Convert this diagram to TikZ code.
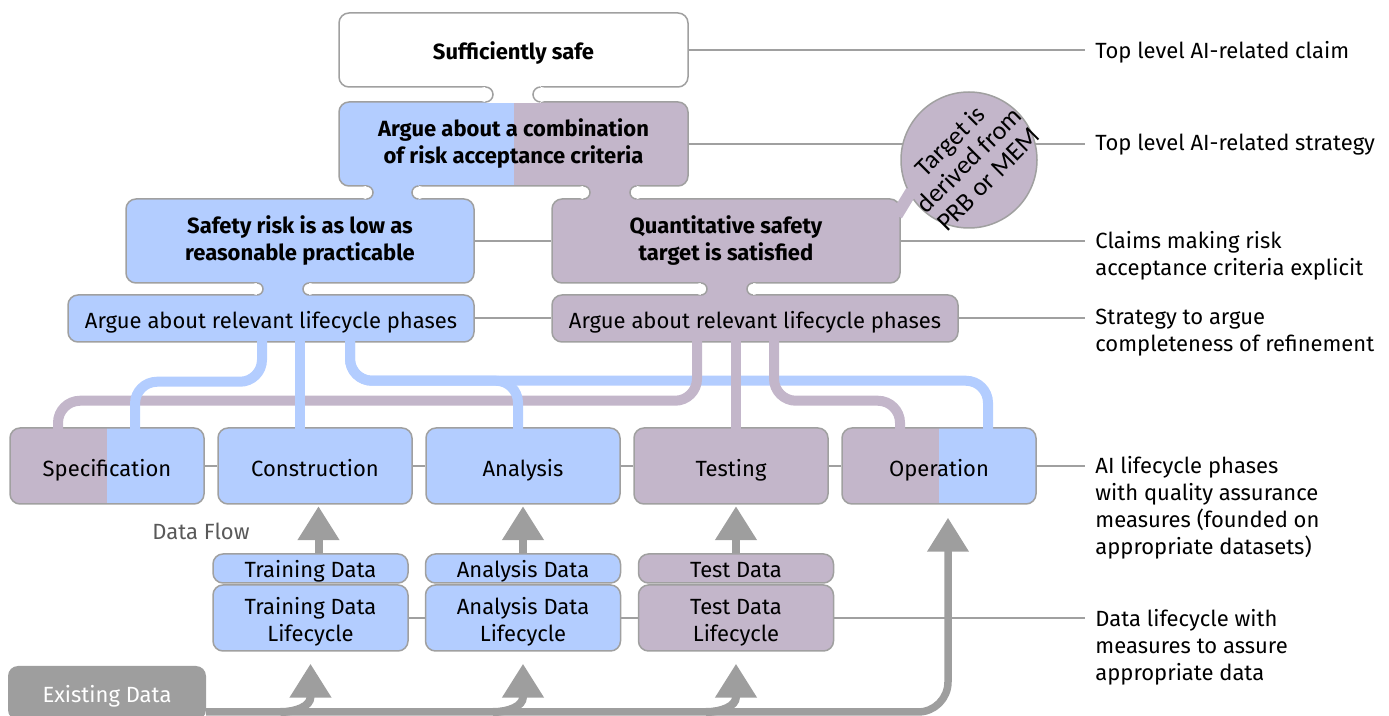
\documentclass[tikz,border=0pt]{standalone}
\usepackage{fontspec}
\setmainfont{Fira Sans}
\newfontfamily\calibri{Carlito}
\usetikzlibrary{arrows.meta,calc,backgrounds}
\definecolor{argblue}{RGB}{179,205,255}
\definecolor{argmauve}{RGB}{195,182,202}
\definecolor{edgegray}{RGB}{160,160,160}
\definecolor{flowgray}{RGB}{158,158,158}
% neck between two stacked boxes: centre x, half width, top, bottom, colour
\newcommand{\neck}[5]{%
  \pgfmathsetmacro{\neckr}{(#4-#3)/2}
  \fill[#5] ({#1-#2-\neckr},{#3-1}) rectangle ({#1+#2+\neckr},{#4+1});
  \fill[white] ({#1-#2-\neckr},{#3+\neckr}) circle[radius=\neckr];
  \fill[white] ({#1+#2+\neckr},{#3+\neckr}) circle[radius=\neckr];
  \draw[rim] ({#1-#2-\neckr},#3) arc[start angle=-90,end angle=90,radius=\neckr];
  \draw[rim] ({#1+#2+\neckr},#3) arc[start angle=270,end angle=90,radius=\neckr];
}

\begin{document}
\begin{tikzpicture}[x=0.5pt,y=-0.5pt,
  font=\fontsize{11}{13.5}\selectfont,
  rim/.style={draw=edgegray,line width=0.75pt},
  box/.style={rim,rounded corners=5pt,align=center,inner sep=2pt},
  oneline/.style={text height=10.5pt,text depth=0.5pt},
  claim/.style={box,font=\fontsize{11}{13.5}\selectfont\bfseries,minimum height=42pt},
  strat/.style={box,oneline,minimum width=203pt,minimum height=23.5pt},
  phase/.style={box,oneline,text height=11.5pt,minimum width=97pt,minimum height=38pt},
  dataset/.style={box,minimum width=97.5pt,minimum height=14.5pt,inner ysep=0pt,text height=10pt,text depth=0.8pt},
  datalife/.style={box,minimum width=97.5pt,minimum height=33pt,inner ysep=0pt,text height=26.5pt,text depth=2.5pt},
  split/.style 2 args={fill=#1,path picture={
    \fill[#2,sharp corners] (path picture bounding box.north) rectangle (path picture bounding box.south east);}},
  link/.style={draw=edgegray,line width=1pt},
  blueway/.style={draw=argblue,line width=5pt,rounded corners=11pt,shorten <=-1pt,shorten >=-1pt},
  mauveway/.style={blueway,draw=argmauve},
  flow/.style={draw=flowgray,line width=4pt,-{Triangle[width=20pt,length=17pt]}},
  note/.style={anchor=north west,align=left,inner xsep=5pt,inner ysep=0pt}]
\useasboundingbox (0,0) rectangle (1389,716);

% claims and strategies
\node[claim,oneline,fill=white,minimum width=174.5pt,minimum height=37pt] (safe) at (513.5,50) {Sufficiently safe};
\node[claim,split={argblue}{argmauve},minimum width=174.5pt] (comb) at (513.5,144) {Argue about a combination\\of risk acceptance criteria};
\node[claim,fill=argblue,minimum width=174pt] (alarp) at (300,241) {Safety risk is as low as\\reasonable practicable};
\node[claim,fill=argmauve,minimum width=174pt] (quant) at (726,241) {Quantitative safety\\target is satisfied};
\node[strat,fill=argblue] (argL) at (271,318.5) {Argue about relevant lifecycle phases};
\node[strat,fill=argmauve] (argR) at (755,318.5) {Argue about relevant lifecycle phases};

% lifecycle phases
\node[phase,split={argmauve}{argblue}] (spec) at (107,466) {Specification};
\node[phase,fill=argblue] (cons) at (315,466) {Construction};
\node[phase,fill=argblue] (anal) at (523,466) {Analysis};
\node[phase,fill=argmauve] (test) at (731,466) {Testing};
\node[phase,split={argmauve}{argblue}] (oper) at (939,466) {Operation};

% data
\node[dataset,fill=argblue] (tdat) at (310.5,568.5) {Training Data};
\node[dataset,fill=argblue] (adat) at (523,568.5) {Analysis Data};
\node[dataset,fill=argmauve] (sdat) at (736,568.5) {Test Data};
\node[datalife,fill=argblue] (tlife) at (310.5,618) {Training Data\\Lifecycle};
\node[datalife,fill=argblue] (alife) at (523,618) {Analysis Data\\Lifecycle};
\node[datalife,fill=argmauve] (slife) at (736,618) {Test Data\\Lifecycle};
\node[box,oneline,draw=none,fill=flowgray,text=white,minimum width=99pt,minimum height=27pt] (exist) at (107,693) {Existing Data};
\node[text=black!65] (flowlbl) at (201,531) {Data Flow};

% notes on the right
\node[note] (n1) at (1085,41) {Top level AI-related claim};
\node[note] (n2) at (1085,134) {Top level AI-related strategy};
\node[note] (n3) at (1085,231) {Claims making risk\\acceptance criteria explicit};
\node[note] (n4) at (1085,309) {Strategy to argue\\completeness of refinement};
\node[note] (n5) at (1085,456) {AI lifecycle phases\\with quality assurance\\measures (founded on\\appropriate datasets)};
\node[note] (n6) at (1085,609) {Data lifecycle with\\measures to assure\\appropriate data};

\begin{scope}[on background layer]
\draw[link] (safe.east) -- (safe.east -| n1.west);
\draw[link] (comb.east) -- (comb.east -| n2.west);
\draw[link] (alarp.east) -- (quant.west);
\draw[link] (quant.east) -- (quant.east -| n3.west);
\draw[link] (argL.east) -- (argR.west);
\draw[link] (argR.east) -- (argR.east -| n4.west);
\draw[link] (spec.east) -- (cons.west);
\draw[link] (cons.east) -- (anal.west);
\draw[link] (anal.east) -- (test.west);
\draw[link] (test.east) -- (oper.west);
\draw[link] (oper.east) -- (oper.east -| n5.west);
\draw[link] (tlife.east) -- (alife.west);
\draw[link] (alife.east) -- (slife.west);
\draw[link] (slife.east) -- (slife.east -| n6.west);
\end{scope}

% necks
\neck{513}{20}{87}{102}{white}
\neck{392.5}{19.5}{186}{199}{argblue}
\neck{610}{20}{186}{199}{argmauve}
\neck{283}{20}{283}{295}{argblue}
\neck{727}{20}{283}{295}{argmauve}

% refinement into phases
\draw[blueway] ([xshift=39.5pt]argL.south) -- ++(0,38) -| ([xshift=24.5pt]oper.north);
\draw[mauveway] ([xshift=-29pt]argR.south) -- ++(0,58) -| ([xshift=-24.5pt]spec.north);
\draw[mauveway] ([xshift=-9.5pt]argR.south) -- ([xshift=2.5pt]test.north);
\draw[mauveway] ([xshift=9.5pt]argR.south) -- ++(0,58) -| ([xshift=-19.5pt]oper.north);
\draw[blueway] ([xshift=-4.5pt]argL.south) -- ++(0,39) -| ([xshift=14pt]spec.north);
\draw[blueway] ([xshift=14.5pt]argL.south) -- ([xshift=-7.5pt]cons.north);
\draw[blueway] ([xshift=39.5pt]argL.south) -- ++(0,38) -| ([xshift=-2.5pt]anal.north);

% target bubble
\node[circle,rim,fill=argmauve,minimum size=68pt,inner sep=0pt] (goal) at (969,160) {};
\node[rotate=45,align=center,font=\calibri\fontsize{13}{13.5}\selectfont] (goaltext) at (goal) {Target is\\derived from\\PRB or MEM};
\draw[argmauve,line width=6pt,shorten >=-2pt] ($(quant.north east)+(-4,17)$) -- (goal.210);

% data flow
\coordinate (bus) at (206,712);
\draw[flow,line width=3.75pt,rounded corners=15pt,shorten >=6.5pt] (bus) -| ([xshift=4.5pt]oper.south);
\draw[flow] ($(tlife.south |- bus)+(-30,0)$) .. controls +(16,0) and +(0,9) .. ++(30,-15) -- ([yshift=-6pt]tlife.south);
\draw[flow] ($(alife.south |- bus)+(-30,0)$) .. controls +(16,0) and +(0,9) .. ++(30,-15) -- ([yshift=-6pt]alife.south);
\draw[flow] ($(slife.south |- bus)+(-30,0)$) .. controls +(16,0) and +(0,9) .. ++(30,-15) -- ([yshift=-6pt]slife.south);
\draw[flow] ([xshift=4pt]tdat.north) -- ++(0,-47);
\draw[flow] (adat.north) -- ++(0,-47);
\draw[flow] (sdat.north) -- ++(0,-47);
\end{tikzpicture}
\end{document}
